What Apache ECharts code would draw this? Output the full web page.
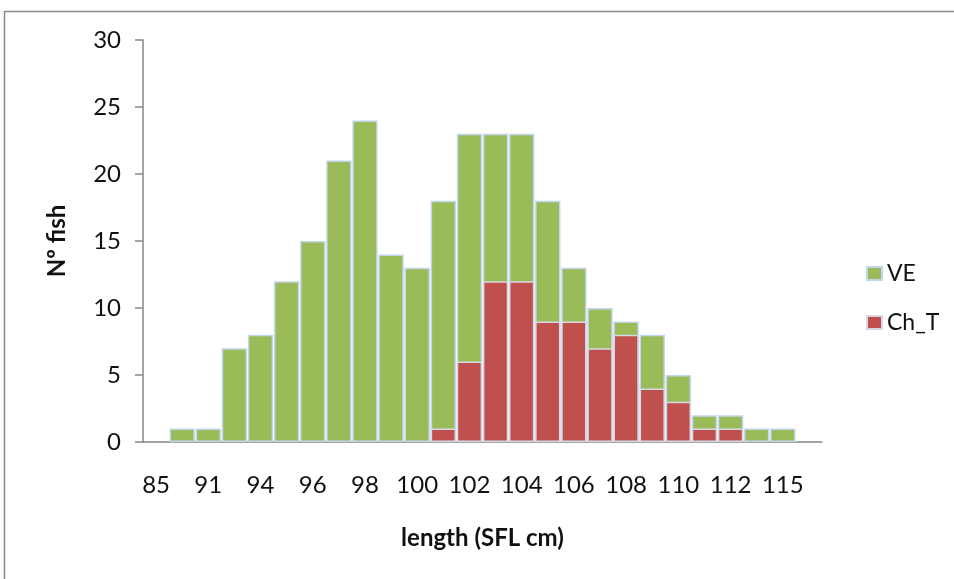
<!DOCTYPE html>
<html>
<head>
<meta charset="utf-8">
<script src="https://cdn.jsdelivr.net/npm/echarts@6/dist/echarts.min.js"></script>
<style>
  html, body { margin: 0; padding: 0; background: #ffffff; }
  #chart { width: 954px; height: 579px; }
</style>
</head>
<body>
<div id="chart"></div>
<script>
// Length classes (SFL, cm); every other class carries a tick label
const lengthClasses = ['85', '90', '91', '93', '94', '95', '96', '97', '98', '99', '100', '101', '102',
  '103', '104', '105', '106', '107', '108', '109', '110', '111', '112', '113', '115', '116'];

// Number of fish per length class
const veCounts = [null, 1, 1, 7, 8, 12, 15, 21, 24, 14, 13, 18, 23, 23, 23, 18, 13, 10, 9, 8, 5, 2, 2, 1, 1, null];
const chTCounts = [null, null, null, null, null, null, null, null, null, null, null, 1, 6, 12, 12, 9, 9, 7, 8, 4, 3, 1, 1, null, null, null];

// Y axis ticks
const yMin = 0;
const yMax = 30;
const yStep = 5;

const FONT = 'Lato, "Noto Sans", sans-serif';
const TEXT = '#111111';
const chart = echarts.init(document.getElementById('chart'), null, { renderer: 'canvas' });

chart.setOption({
  animation: false,
  backgroundColor: '#ffffff',
  graphic: [{
    type: 'rect',
    silent: true,
    shape: { x: 4.5, y: 11.5, width: 980, height: 620 },
    style: { fill: 'none', stroke: '#8a8a8a', lineWidth: 1.5 }
  }],
  grid: { left: 143, right: 132, top: 40, bottom: 137 },
  legend: {
    orient: 'vertical',
    left: 861,
    top: 257,
    itemWidth: 15,
    itemHeight: 13,
    itemGap: 26,
    icon: 'rect',
    textStyle: { fontFamily: FONT, fontSize: 23, color: TEXT, padding: [0, 0, 0, 0] },
    data: ['VE', 'Ch_T']
  },
  xAxis: {
    type: 'category',
    data: lengthClasses,
    name: 'length (SFL cm)',
    nameLocation: 'middle',
    nameGap: 84,
    nameTextStyle: { fontFamily: FONT, fontSize: 24, fontWeight: 'bold', color: TEXT },
    axisLine: { lineStyle: { color: '#868686', width: 1.5 } },
    axisTick: { show: false },
    axisLabel: {
      interval: 1,
      margin: 31,
      fontFamily: FONT,
      fontSize: 24,
      color: TEXT
    },
    splitLine: { show: false }
  },
  yAxis: {
    type: 'value',
    min: yMin,
    max: yMax,
    interval: yStep,
    name: 'Nº fish',
    nameLocation: 'middle',
    nameRotate: 90,
    nameGap: 74,
    nameTextStyle: { fontFamily: FONT, fontSize: 24, fontWeight: 'bold', color: TEXT },
    axisLine: { show: true, lineStyle: { color: '#868686', width: 1.5 } },
    axisTick: { show: true, length: 8, lineStyle: { color: '#868686', width: 1.5 } },
    axisLabel: { margin: 22, fontFamily: FONT, fontSize: 24, color: TEXT },
    splitLine: { show: false }
  },
  series: [
    {
      name: 'VE',
      type: 'bar',
      data: veCounts,
      barCategoryGap: '3%',
      barGap: '-100%',
      itemStyle: { color: '#9bbb59', borderColor: '#c3d5ee', borderWidth: 1.5 }
    },
    {
      name: 'Ch_T',
      type: 'bar',
      data: chTCounts,
      barCategoryGap: '3%',
      barGap: '-100%',
      itemStyle: { color: '#c0504d', borderColor: '#d5d9e6', borderWidth: 1.5 }
    }
  ]
});
</script>
</body>
</html>
